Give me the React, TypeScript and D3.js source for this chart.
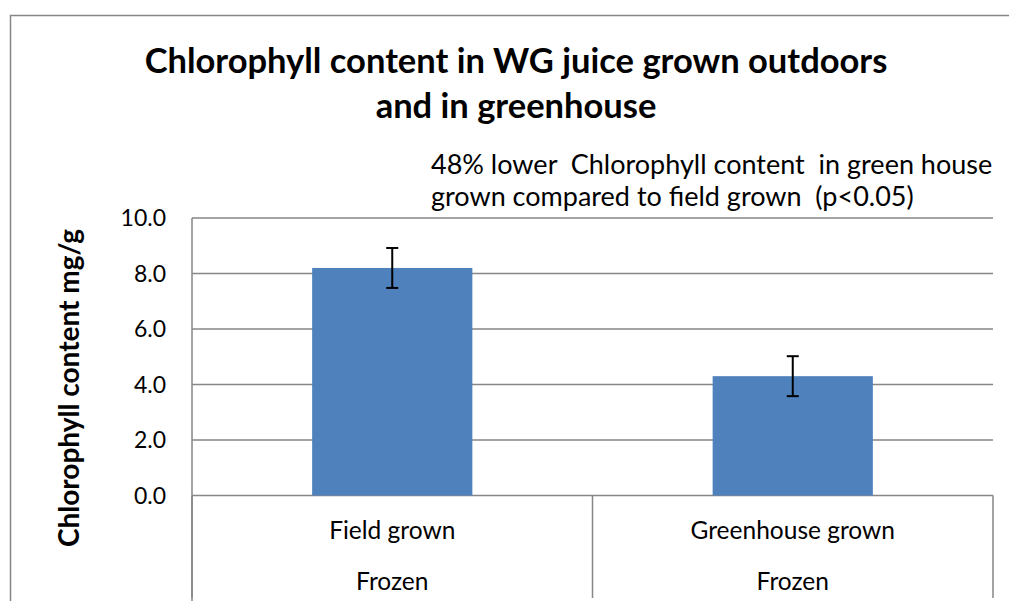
import { useMemo } from 'react';
import * as d3 from 'd3';

const WIDTH = 1009;
const HEIGHT = 601;
const FONT = 'Lato, "Open Sans", sans-serif';

const categories = ['Field grown', 'Greenhouse grown'];
const groupLabels = ['Frozen', 'Frozen'];
const values = [8.2, 4.3];
const errors = [0.72, 0.72];
const yTicks = [0, 2, 4, 6, 8, 10];
const titleLines = ['Chlorophyll content in WG juice grown outdoors', 'and in greenhouse'];
const noteLines = [
  '48% lower  Chlorophyll content  in green house',
  'grown compared to field grown  (p<0.05)',
];
const yTitle = 'Chlorophyll content mg/g';

// plot bounds inside the chart frame
const PLOT = { left: 192, right: 993, top: 218, bottom: 495.5 };
const GRID = '#868686';

export default function App() {
  const xScale = useMemo(
    () => d3.scaleBand<string>().domain(categories).range([PLOT.left, PLOT.right]).padding(0),
    []
  );
  const yScale = useMemo(
    () => d3.scaleLinear().domain([0, 10]).range([PLOT.bottom, PLOT.top]),
    []
  );
  const bw = xScale.bandwidth();
  const barW = bw * 0.4;

  return (
    <svg
      width={WIDTH}
      height={HEIGHT}
      style={{ position: 'absolute', left: 0, top: 0, background: '#fff' }}
      fontFamily={FONT}
    >
      {/* chart frame, cropped at right and bottom */}
      <rect x={10.5} y={15.5} width={1020} height={620} fill="#fff" stroke={GRID} strokeWidth={1.5} />

      {/* title */}
      {titleLines.map((t, i) => (
        <text
          key={t}
          x={516}
          y={73 + i * 45}
          textAnchor="middle"
          fontSize={34.5}
          fontWeight="bold"
          fill="#000"
        >
          {t}
        </text>
      ))}

      {/* annotation (double spaces kept) */}
      {noteLines.map((t, i) => (
        <text
          key={t}
          x={431}
          y={174 + i * 31.5}
          fontSize={27}
          fill="#000"
          style={{ whiteSpace: 'pre' }}
        >
          {t}
        </text>
      ))}

      {/* gridlines */}
      {yTicks.map((t) => (
        <line
          key={t}
          x1={PLOT.left}
          x2={PLOT.right}
          y1={yScale(t)}
          y2={yScale(t)}
          stroke={GRID}
          strokeWidth={1.5}
        />
      ))}

      {/* y tick labels */}
      {yTicks.map((t) => (
        <text
          key={t}
          x={166}
          y={yScale(t)}
          dy="0.36em"
          textAnchor="end"
          fontSize={23}
          fill="#000"
        >
          {t.toFixed(1)}
        </text>
      ))}

      {/* bars */}
      {categories.map((c, i) => (
        <rect
          key={c}
          x={(xScale(c) ?? 0) + bw * 0.3}
          y={yScale(values[i])}
          width={barW}
          height={yScale(0) - yScale(values[i])}
          fill="#4F81BD"
        />
      ))}

      {/* error bars */}
      {categories.map((c, i) => {
        const cx = (xScale(c) ?? 0) + bw / 2;
        const hi = yScale(values[i] + errors[i]);
        const lo = yScale(values[i] - errors[i]);
        return (
          <g key={c} stroke="#000" strokeWidth={2}>
            <line x1={cx} x2={cx} y1={hi} y2={lo} />
            <line x1={cx - 6} x2={cx + 6} y1={hi} y2={hi} />
            <line x1={cx - 6} x2={cx + 6} y1={lo} y2={lo} />
          </g>
        );
      })}

      {/* axes: left line and category dividers */}
      <line x1={PLOT.left} x2={PLOT.left} y1={PLOT.top} y2={HEIGHT} stroke={GRID} strokeWidth={1.5} />
      {[...categories.map((c) => xScale(c) ?? 0), PLOT.right].map((x, i) => (
        <line key={i} x1={x} x2={x} y1={PLOT.bottom} y2={598} stroke={GRID} strokeWidth={1.5} />
      ))}

      {/* category labels */}
      {categories.map((c, i) => (
        <g key={c}>
          <text
            x={(xScale(c) ?? 0) + bw / 2}
            y={539}
            textAnchor="middle"
            fontSize={24.5}
            fill="#000"
          >
            {c}
          </text>
          <text
            x={(xScale(c) ?? 0) + bw / 2}
            y={590}
            textAnchor="middle"
            fontSize={24.5}
            fill="#000"
          >
            {groupLabels[i]}
          </text>
        </g>
      ))}

      {/* y axis title */}
      <text
        transform={`translate(79, 388) rotate(-90)`}
        textAnchor="middle"
        fontSize={28}
        fontWeight="bold"
        fill="#000"
      >
        {yTitle}
      </text>
    </svg>
  );
}
